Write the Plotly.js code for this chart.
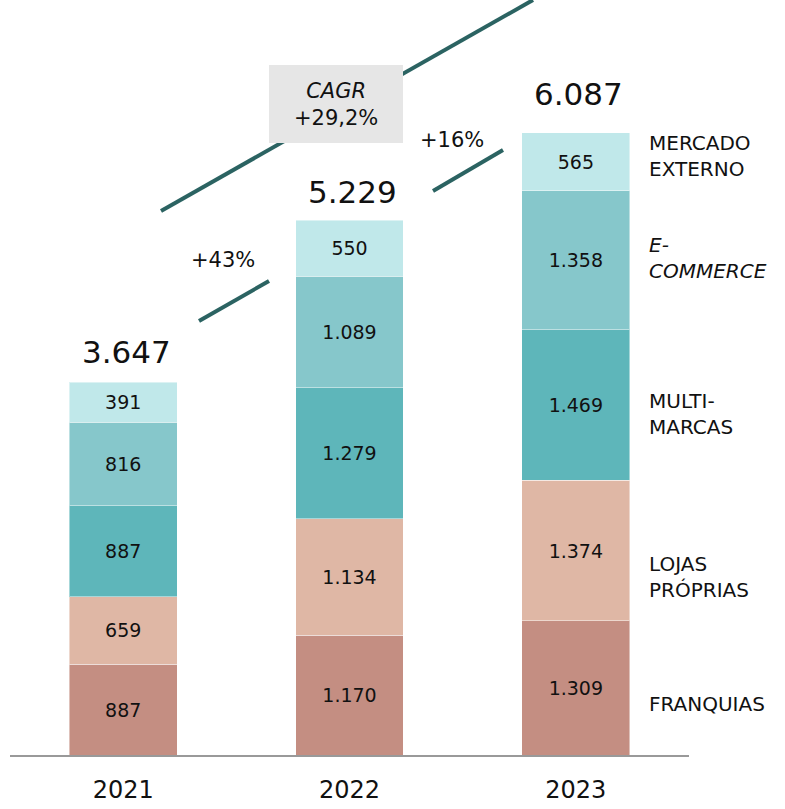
<!DOCTYPE html>
<html>
<head>
<meta charset="utf-8">
<script src="https://cdn.plot.ly/plotly-3.0.1.min.js"></script>
<style>html,body{margin:0;padding:0;background:#fff;}#chart{width:785px;height:809px;}</style>
</head>
<body>
<div id="chart"></div>
<script>
const years = ['2021', '2022', '2023'];
const seriesNames = ['FRANQUIAS', 'LOJAS<br>PRÓPRIAS', 'MULTI-<br>MARCAS', '<i>E-<br>COMMERCE</i>', 'MERCADO<br>EXTERNO'];
const franquias = [887, 1170, 1309];
const lojasProprias = [659, 1134, 1374];
const multimarcas = [887, 1279, 1469];
const ecommerce = [816, 1089, 1358];
const mercadoExterno = [391, 550, 565];
const totals = [3647, 5229, 6087];
const growthLabels = ['+43%', '+16%'];
const cagrLabel = '<i>CAGR</i><br>+29,2%';

const seriesValues = [franquias, lojasProprias, multimarcas, ecommerce, mercadoExterno];
const colors = ['#c48e82', '#dfb7a5', '#5eb6ba', '#86c7cb', '#c0e8ea'];

const fmt = v => v >= 1000 ? Math.floor(v / 1000) + '.' + String(v % 1000).padStart(3, '0') : String(v);

const FONT = '"DejaVu Sans", Verdana, sans-serif';

const traces = seriesValues.map((vals, i) => ({
  type: 'bar',
  x: years,
  y: vals,
  name: seriesNames[i],
  marker: {color: colors[i], line: {color: 'rgba(255,255,255,0.45)', width: 1}},
  text: vals.map(fmt),
  textposition: 'inside',
  insidetextanchor: 'middle',
  textfont: {family: FONT, size: 19, color: '#111'},
  hoverinfo: 'none',
  width: 0.477
}));

// Plot geometry (pixels) for decorative helpers
const L = 10, T = 0, W = 679, H = 755;
const px = x => (x - L) / W;
const py = y => (T + H - y) / H;

const stackTops = years.map((_, j) => seriesValues.reduce((s, a) => s + a[j], 0));
const totalShifts = [30, 28, 39];

const annotations = [];
years.forEach((yr, j) => {
  annotations.push({
    x: j, y: stackTops[j], xref: 'x', yref: 'y',
    text: fmt(totals[j]), showarrow: false, xanchor: 'center', yanchor: 'middle', yshift: totalShifts[j], xshift: 3,
    font: {family: FONT, size: 31, color: '#111'}
  });
});

// right side category labels aligned to last bar segments
const legendShifts = [-16, -26, -9, 2, 6];
let cum = 0;
seriesValues.forEach((vals, i) => {
  const v = vals[2];
  const mid = cum + v / 2;
  cum += v;
  annotations.push({
    x: px(647), xref: 'paper', y: mid, yref: 'y', yshift: legendShifts[i],
    text: seriesNames[i], showarrow: false, xanchor: 'left', yanchor: 'middle', align: 'left',
    font: {family: FONT, size: 20, color: '#111'}
  });
});

annotations.push({
  x: px(223), y: py(260), xref: 'paper', yref: 'paper', text: growthLabels[0], showarrow: false,
  xanchor: 'center', yanchor: 'middle',
  font: {family: FONT, size: 21, color: '#111'}
});
annotations.push({
  x: px(452), y: py(140), xref: 'paper', yref: 'paper', text: growthLabels[1], showarrow: false,
  xanchor: 'center', yanchor: 'middle',
  font: {family: FONT, size: 21, color: '#111'}
});
annotations.push({
  x: px(336), y: py(104), xref: 'paper', yref: 'paper', text: cagrLabel, showarrow: false,
  xanchor: 'center', yanchor: 'middle',
  font: {family: FONT, size: 21, color: '#111'}
});

const lineStyle = {color: '#2b6362', width: 4};
const shapes = [
  {type: 'line', xref: 'paper', yref: 'paper', x0: px(161), y0: py(211), x1: px(533), y1: py(0), line: lineStyle, layer: 'above'},
  {type: 'rect', xref: 'paper', yref: 'paper', x0: px(269), y0: py(65), x1: px(403), y1: py(143), fillcolor: '#e6e6e6', line: {width: 0}, layer: 'above'},
  {type: 'line', xref: 'paper', yref: 'paper', x0: px(199), y0: py(321), x1: px(269), y1: py(281), line: lineStyle, layer: 'above'},
  {type: 'line', xref: 'paper', yref: 'paper', x0: px(433), y0: py(191), x1: px(503), y1: py(150), line: lineStyle, layer: 'above'}
];

const layout = {
  width: 785, height: 809,
  margin: {l: L, r: 785 - L - W, t: T, b: 809 - T - H},
  barmode: 'stack',
  showlegend: false,
  paper_bgcolor: '#fff',
  plot_bgcolor: '#fff',
  xaxis: {
    type: 'category', range: [-0.5, 2.5], showgrid: false, zeroline: false,
    showline: true, linecolor: '#999', linewidth: 2, ticks: '', ticklen: 0,
    tickfont: {family: FONT, size: 24, color: '#111'}, ticklabelstandoff: 12
  },
  yaxis: {range: [0, 7370], visible: false, showgrid: false, zeroline: false},
  annotations: annotations,
  shapes: shapes
};

Plotly.newPlot('chart', traces, layout, {displayModeBar: false, staticPlot: true});
</script>
</body>
</html>
